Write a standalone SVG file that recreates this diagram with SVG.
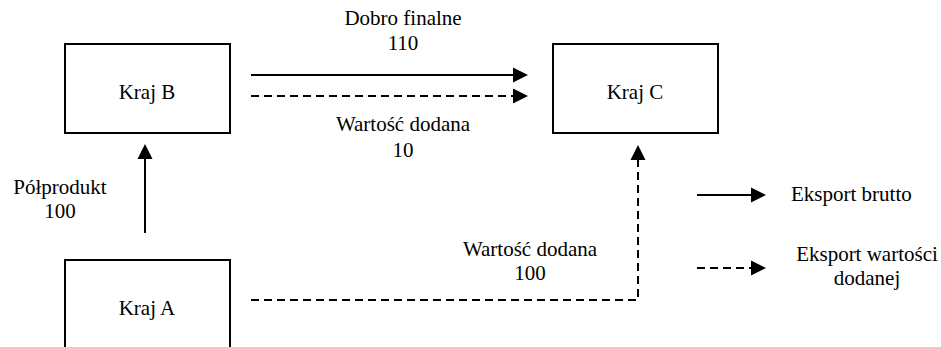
<svg xmlns="http://www.w3.org/2000/svg" width="941" height="347" viewBox="0 0 941 347">
<style>
  .box { fill: #fff; stroke: #000; stroke-width: 2; }
  .solid { fill: none; stroke: #000; stroke-width: 2; }
  .dash { fill: none; stroke: #000; stroke-width: 2; stroke-dasharray: 8 5; }
</style>
<defs>
  <marker id="ah" markerUnits="userSpaceOnUse" markerWidth="16" markerHeight="16" refX="0" refY="7.5" orient="auto" overflow="visible">
    <path d="M0,0 L15,7.5 L0,15 Z" fill="#000"/>
  </marker>
</defs>
<rect width="941" height="347" fill="#fff"/>
<g font-family="Liberation Serif, serif" font-size="21" fill="#000">
<g id="node-kraj-b">
  <rect class="box" x="65" y="44" width="165" height="89"/>
  <text x="147" y="99" text-anchor="middle">Kraj B</text>
</g>
<g id="node-kraj-c">
  <rect class="box" x="553" y="44" width="165" height="89"/>
  <text x="635" y="99" text-anchor="middle">Kraj C</text>
</g>
<g id="node-kraj-a">
  <rect class="box" x="65" y="260" width="165" height="100"/>
  <text x="147" y="315" text-anchor="middle">Kraj A</text>
</g>
<g id="connectors">
  <line class="solid" x1="145" y1="233" x2="145" y2="159" marker-end="url(#ah)"/>
  <line class="solid" x1="251" y1="75" x2="513" y2="75" marker-end="url(#ah)"/>
  <line class="dash" x1="251" y1="96" x2="513" y2="96" marker-end="url(#ah)"/>
  <path class="dash" d="M251,300 H638 V160" marker-end="url(#ah)"/>
</g>
<g id="labels">
  <text x="403" y="25" text-anchor="middle">Dobro finalne</text>
  <text x="403" y="50" text-anchor="middle">110</text>
  <text x="403" y="131" text-anchor="middle">Wartość dodana</text>
  <text x="403" y="157" text-anchor="middle">10</text>
  <text x="60" y="194" text-anchor="middle">Półprodukt</text>
  <text x="60" y="218" text-anchor="middle">100</text>
  <text x="530" y="256" text-anchor="middle">Wartość dodana</text>
  <text x="530" y="280" text-anchor="middle">100</text>
</g>
<g id="legend">
  <line class="solid" x1="697" y1="195" x2="751" y2="195" marker-end="url(#ah)"/>
  <text x="791" y="201">Eksport brutto</text>
  <line class="dash" x1="697" y1="268" x2="751" y2="268" marker-end="url(#ah)"/>
  <text x="867" y="261" text-anchor="middle">Eksport wartości</text>
  <text x="867" y="285" text-anchor="middle">dodanej</text>
</g>
</g>
</svg>
